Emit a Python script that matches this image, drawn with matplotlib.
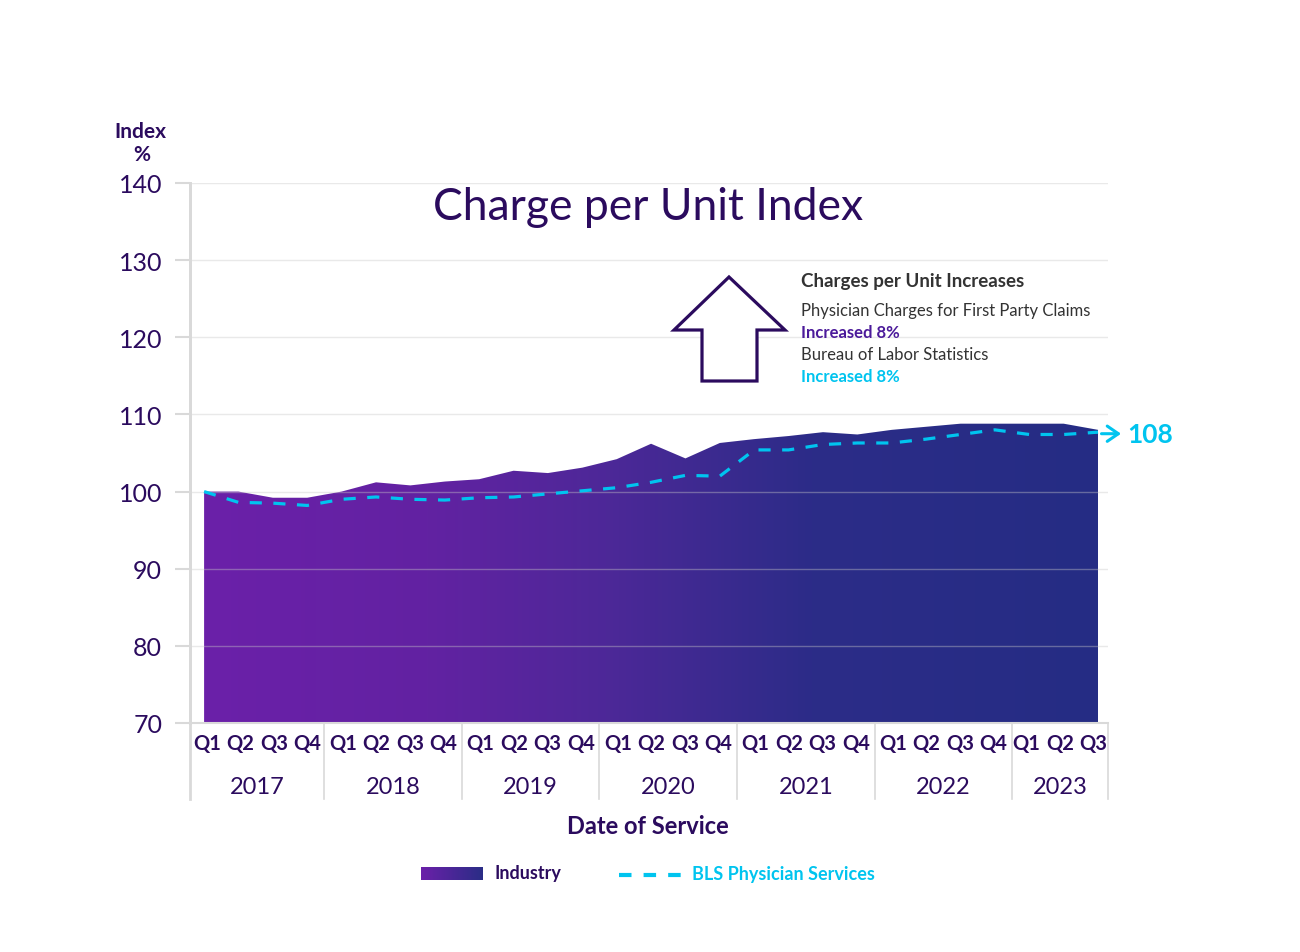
import numpy as np
import matplotlib
matplotlib.use("Agg")
import matplotlib.pyplot as plt
from matplotlib.colors import LinearSegmentedColormap
from matplotlib.patches import Polygon
from matplotlib.lines import Line2D
import matplotlib.transforms as mtransforms

plt.rcParams['font.family'] = ['Lato', 'DejaVu Sans']

# ---------------- data ----------------
years = ["2017", "2018", "2019", "2020", "2021", "2022", "2023"]
quarters_per_year = [4, 4, 4, 4, 4, 4, 3]
quarter_names = ["Q1", "Q2", "Q3", "Q4"]

industry = [100.0, 100.0, 99.2, 99.2, 100.0, 101.2, 100.8, 101.3,
            101.6, 102.7, 102.4, 103.1, 104.2, 106.2, 104.3, 106.3,
            106.8, 107.2, 107.7, 107.4, 108.0, 108.4, 108.8, 108.8,
            108.8, 108.8, 108.0]
bls = [100.0, 98.6, 98.5, 98.2, 99.0, 99.3, 99.0, 98.9,
       99.2, 99.3, 99.7, 100.1, 100.5, 101.2, 102.1, 102.0,
       105.4, 105.4, 106.1, 106.3, 106.3, 106.8, 107.4, 108.0,
       107.4, 107.4, 107.7]
y_ticks = [70, 80, 90, 100, 110, 120, 130, 140]

# ---------------- style ----------------
DARK = "#2B0B5E"
CYAN = "#00C4EF"
GRAY_TXT = "#333333"
PURPLE_TXT = "#4B1A9A"
LINE_GRAY = "#d9d9d9"

W, H = 1300, 953
fig = plt.figure(figsize=(W / 100, H / 100), dpi=100)

def fx(px):
    return px / W

def fy(py):
    return 1 - py / H

ax = fig.add_axes([fx(190), fy(724), fx(1108) - fx(190), fy(184) - fy(724)])
x = np.arange(len(industry))
xmin, xmax = -0.41, 26.29
ax.set_xlim(xmin, xmax)
ax.set_ylim(70, 140)

# gradient area
cmap = LinearSegmentedColormap.from_list(
    "ind", [(0.0, "#6B20A9"), (0.25, "#6222A2"), (0.45, "#4D2898"),
            (0.68, "#2C2C88"), (1.0, "#252D84")])
poly = ax.fill_between(x, 70, industry, facecolor="none", edgecolor="none", zorder=1)
grad = np.linspace(0, 1, 512).reshape(1, -1)
im = ax.imshow(grad, extent=[x[0], x[-1], 70, 140], aspect="auto", cmap=cmap,
               origin="lower", zorder=1, interpolation="bilinear")
im.set_clip_path(poly.get_paths()[0], transform=ax.transData)

# grid lines
for yv in y_ticks[1:]:
    ax.axhline(yv, color="#c8c8c8", alpha=0.4, lw=1, zorder=2)

# BLS dashed line
ax.plot(x, bls, color=CYAN, lw=2.3, dashes=(3.8, 3.6), zorder=4)

# arrow and end label
ax.annotate("", xy=(x[-1] + 0.75, bls[-1] - 0.2), xytext=(x[-1] + 0.02, bls[-1] - 0.2),
            arrowprops=dict(arrowstyle="->,head_length=0.8,head_width=0.55",
                            color=CYAN, lw=2.2), annotation_clip=False, zorder=5)
ax.text(x[-1] + 0.85, bls[-1] - 0.2, f"{round(bls[-1])}", color=CYAN, fontsize=19,
        fontweight="bold", va="center", ha="left", clip_on=False)

# spines & ticks
for s in ["top", "right"]:
    ax.spines[s].set_visible(False)
ax.spines["left"].set_color(LINE_GRAY)
ax.spines["left"].set_linewidth(2)
ax.spines["bottom"].set_color(LINE_GRAY)
ax.spines["bottom"].set_linewidth(1.5)
ax.spines["bottom"].set_zorder(6)
ax.set_yticks(y_ticks)
ax.tick_params(axis="y", length=11, width=1.5, color=LINE_GRAY, pad=9,
               labelsize=18, labelcolor=DARK)
ax.set_xticks([])

# multi-level category axis
trans = mtransforms.blended_transform_factory(ax.transData, fig.transFigure)
bounds = [xmin]
start = 0
for n in quarters_per_year[:-1]:
    start += n
    bounds.append(start - 0.5)
bounds.append(xmax)

for b in bounds:
    top = 184 if b == xmin else 724
    fig.add_artist(Line2D([b, b], [fy(top), fy(800)], transform=trans,
                          color=LINE_GRAY, lw=1.2 if b != xmin else 2))

for i, (yr, n) in enumerate(zip(years, quarters_per_year)):
    c = (bounds[i] + bounds[i + 1]) / 2
    for k in range(n):
        qx = c + (k - (n - 1) / 2) * 0.975
        fig.text(qx, fy(744), quarter_names[k], transform=trans, ha="center",
                 va="center", fontsize=14.5, fontweight="bold", color=DARK)
    fig.text(c, fy(788), yr, transform=trans, ha="center", va="center",
             fontsize=17, color=DARK)

# axis titles
fig.text(fx(648), fy(827), "Date of Service", ha="center", va="center",
         fontsize=17, fontweight="bold", color=DARK)
fig.text(fx(140), fy(132), "Index", ha="center", va="center", fontsize=15,
         fontweight="bold", color=DARK)
fig.text(fx(142), fy(155), "%", ha="center", va="center", fontsize=15,
         fontweight="bold", color=DARK)

# chart title
fig.text(fx(648), fy(208), "Charge per Unit Index", ha="center", va="center",
         fontsize=32, color=DARK)

# hollow up arrow
arrow_pts = [(729, 278), (785, 331), (757, 331), (757, 382), (702, 382),
             (702, 331), (674, 331)]
fig.add_artist(Polygon([(fx(a), fy(b)) for a, b in arrow_pts], closed=True,
                       transform=fig.transFigure, facecolor="white",
                       edgecolor=DARK, lw=2.3, zorder=5))

# annotation text
fig.text(fx(801), fy(281), "Charges per Unit Increases", ha="left", va="center",
         fontsize=13.5, fontweight="bold", color=GRAY_TXT)
fig.text(fx(801), fy(311), "Physician Charges for First Party Claims", ha="left",
         va="center", fontsize=12, color=GRAY_TXT)
fig.text(fx(801), fy(333), "Increased 8%", ha="left", va="center", fontsize=12,
         fontweight="bold", color=PURPLE_TXT)
fig.text(fx(801), fy(355), "Bureau of Labor Statistics", ha="left", va="center",
         fontsize=12, color=GRAY_TXT)
fig.text(fx(801), fy(377), "Increased 8%", ha="left", va="center", fontsize=12,
         fontweight="bold", color=CYAN)

# legend
lax = fig.add_axes([fx(421), fy(881), fx(483) - fx(421), fy(868) - fy(881)])
lax.imshow(np.linspace(0, 1, 256).reshape(1, -1), aspect="auto",
           cmap=LinearSegmentedColormap.from_list("lg", ["#6B20A9", "#2A2D86"]))
lax.set_axis_off()
fig.text(fx(494), fy(874), "Industry", ha="left", va="center", fontsize=13,
         fontweight="bold", color=DARK)
fig.add_artist(Line2D([fx(619), fx(681)], [fy(876), fy(876)], transform=fig.transFigure,
                      color=CYAN, lw=3, dashes=(3.0, 2.9)))
fig.text(fx(692), fy(875), "BLS Physician Services", ha="left", va="center",
         fontsize=13, fontweight="bold", color=CYAN)

fig.savefig("out.png", dpi=100, facecolor="white")
